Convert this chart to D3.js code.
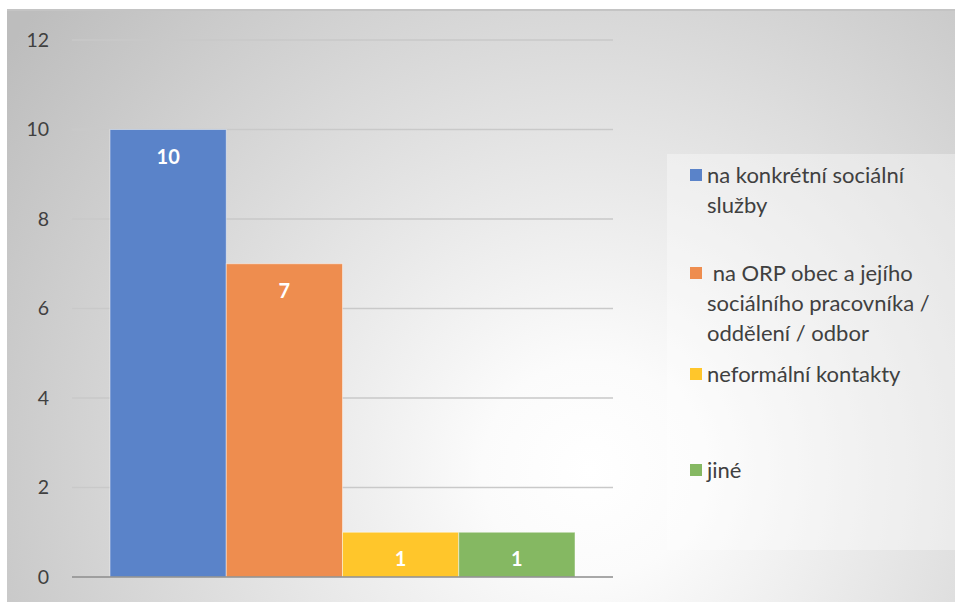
<!DOCTYPE html>
<html>
<head>
<meta charset="utf-8">
<script src="https://cdn.jsdelivr.net/npm/d3@7"></script>
<style>
  body { margin: 0; background: #fff; }
  svg { display: block; font-family: Lato, "Open Sans", sans-serif; }
</style>
</head>
<body>
<div id="chart"></div>
<script>
const series = ["na konkrétní sociální služby", " na ORP obec a jejího sociálního pracovníka / oddělení / odbor", "neformální kontakty", "jiné"];
const values = [10, 7, 1, 1];
const colors = ["#5a83c9", "#ee8d4f", "#ffc62b", "#85b862"];
const yTicks = [0, 2, 4, 6, 8, 10, 12];
// legend text split into lines as in the picture
const legendLines = [
  ["na konkrétní sociální", "služby"],
  [" na ORP obec a jejího", "sociálního pracovníka /", "oddělení / odbor"],
  ["neformální kontakty"],
  ["jiné"]
];
const legendTop = [175, 273, 374, 470];

const W = 955, H = 602;
const margin = { top: 40, right: 342, bottom: 25, left: 72 };
const width = W - margin.left - margin.right;
const height = H - margin.top - margin.bottom;

const svg = d3.select('#chart')
  .append('svg')
  .attr('width', W)
  .attr('height', H);

const defs = svg.append('defs');
const grad = defs.append('radialGradient')
  .attr('id', 'bg')
  .attr('gradientUnits', 'userSpaceOnUse')
  .attr('cx', 590).attr('cy', 470).attr('r', 720);
grad.append('stop').attr('offset', '0%').attr('stop-color', '#ffffff');
grad.append('stop').attr('offset', '15%').attr('stop-color', '#fbfbfb');
grad.append('stop').attr('offset', '100%').attr('stop-color', '#bdbdbd');

// chart area with shadow line on top
svg.append('rect')
  .attr('x', 7).attr('y', 9)
  .attr('width', W - 7).attr('height', H - 9)
  .attr('fill', '#c4c4c4');
svg.append('rect')
  .attr('x', 7).attr('y', 11)
  .attr('width', W - 7).attr('height', H - 11)
  .attr('fill', 'url(#bg)');

const g = svg.append('g')
  .attr('transform', `translate(${margin.left},${margin.top})`);

const yScale = d3.scaleLinear()
  .domain([0, 12])
  .range([height, 0]);

const xScale = d3.scaleBand()
  .domain(series)
  .range([0, width])
  .paddingInner(0)
  .paddingOuter(0.327);

// gridlines
g.append('g')
  .selectAll('line')
  .data(yTicks.filter(d => d !== 0))
  .enter()
  .append('line')
  .attr('x1', 0)
  .attr('x2', width)
  .attr('y1', d => yScale(d))
  .attr('y2', d => yScale(d))
  .attr('stroke', '#c9c9c9')
  .attr('stroke-width', 1.3);

// bars
g.selectAll('rect.bar')
  .data(values)
  .enter()
  .append('rect')
  .attr('class', 'bar')
  .attr('x', (d, i) => xScale(series[i]))
  .attr('y', d => yScale(d))
  .attr('width', xScale.bandwidth())
  .attr('height', d => height - yScale(d))
  .attr('fill', (d, i) => colors[i])
  .attr('stroke', 'rgba(255,255,255,0.45)')
  .attr('stroke-width', 1);

// baseline
g.append('line')
  .attr('x1', 0)
  .attr('x2', width)
  .attr('y1', yScale(0))
  .attr('y2', yScale(0))
  .attr('stroke', '#8c8c8c')
  .attr('stroke-width', 1.3);

// value labels
g.selectAll('text.val')
  .data(values)
  .enter()
  .append('text')
  .attr('class', 'val')
  .attr('x', (d, i) => xScale(series[i]) + xScale.bandwidth() / 2)
  .attr('y', d => yScale(d) + 27)
  .attr('dy', '0.35em')
  .attr('text-anchor', 'middle')
  .attr('fill', '#fff')
  .attr('font-weight', 'bold')
  .attr('font-size', 20)
  .text(d => d);

// y axis
const yAxis = d3.axisLeft(yScale)
  .tickValues(yTicks)
  .tickSize(0)
  .tickPadding(23);
g.append('g')
  .call(yAxis)
  .call(a => a.select('.domain').remove())
  .selectAll('text')
  .attr('font-size', 19.5)
  .attr('font-family', 'Lato, "Open Sans", sans-serif')
  .attr('fill', '#404040');

// legend
svg.append('rect')
  .attr('x', 667).attr('y', 154)
  .attr('width', W - 667).attr('height', 396)
  .attr('fill', '#ffffff')
  .attr('fill-opacity', 0.35);

const legend = svg.append('g');
legendLines.forEach((lines, i) => {
  legend.append('rect')
    .attr('x', 690)
    .attr('y', legendTop[i] - 6)
    .attr('width', 12)
    .attr('height', 12)
    .attr('fill', colors[i]);
  const t = legend.append('text')
    .attr('x', 707)
    .attr('y', legendTop[i])
    .attr('font-size', 22)
    .attr('fill', '#404040')
    .attr('xml:space', 'preserve');
  lines.forEach((l, j) => {
    t.append('tspan')
      .attr('x', 707)
      .attr('dy', j === 0 ? '0.35em' : 30)
      .text(l);
  });
});
</script>
</body>
</html>
